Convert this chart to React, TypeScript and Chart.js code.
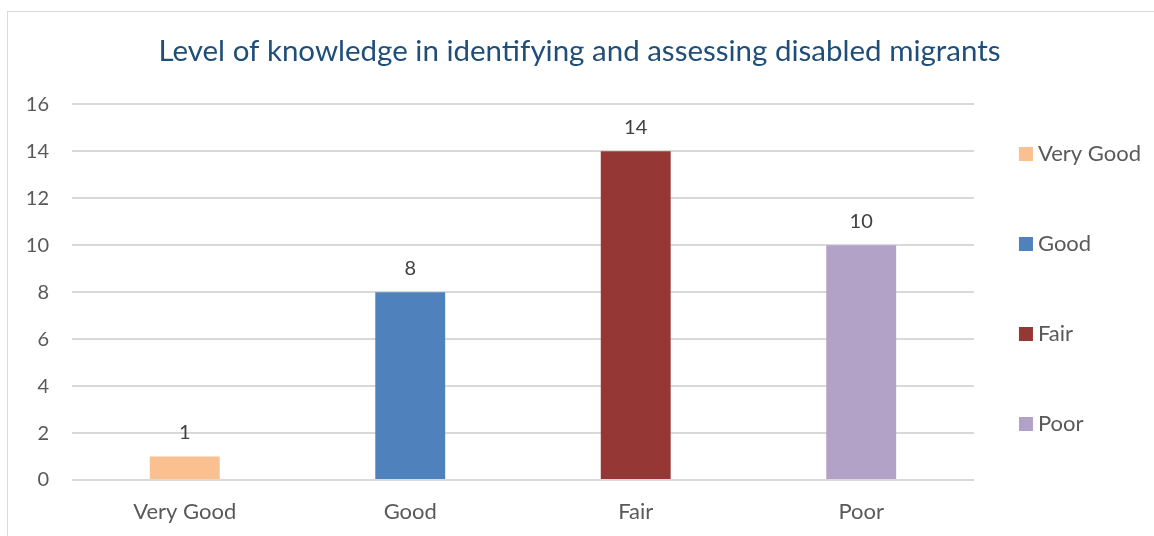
import React, { useEffect, useRef } from "react";
import { Chart, registerables } from "chart.js";

Chart.register(...registerables);

const titleText = "Level of knowledge in identifying and assessing disabled migrants";
const categories = ["Very Good", "Good", "Fair", "Poor"];
const values = [1, 8, 14, 10];
const barColors = ["#FAC090", "#4F81BD", "#953735", "#B2A2C7"];
const yMin = 0;
const yMax = 16;
const yStep = 2;

const FONT = "Lato, 'Liberation Sans', sans-serif";
const LEGEND_SQUARE = 14;
const TEXT_COLOR = "#595959";

const valueLabels = {
  id: "valueLabels",
  afterDatasetsDraw(chart: any) {
    const ctx = chart.ctx;
    const meta = chart.getDatasetMeta(0);
    ctx.save();
    ctx.font = `20px ${FONT}`;
    ctx.fillStyle = "#404040";
    ctx.textAlign = "center";
    ctx.textBaseline = "middle";
    meta.data.forEach((bar: any, i: number) => {
      ctx.fillText(String(values[i]), bar.x, bar.y - 24);
    });
    ctx.restore();
  },
};

// Draws the legend colour squares into the hit boxes laid out by Chart.js's legend
const legendSquares = {
  id: "legendSquares",
  afterDraw(chart: any) {
    const legend = chart.legend;
    if (!legend || !legend.legendHitBoxes) return;
    const ctx = chart.ctx;
    ctx.save();
    legend.legendHitBoxes.forEach((hb: any, i: number) => {
      ctx.fillStyle = barColors[i];
      ctx.fillRect(hb.left, hb.top + hb.height / 2 - LEGEND_SQUARE / 2, LEGEND_SQUARE, LEGEND_SQUARE);
    });
    ctx.restore();
  },
};

export default function App() {
  const ref = useRef<HTMLCanvasElement>(null);
  useEffect(() => {
    const chart = new Chart(ref.current!, {
      type: "bar",
      data: {
        labels: categories,
        datasets: [
          {
            label: "Series",
            data: values,
            backgroundColor: barColors,
            borderWidth: 0,
            barPercentage: 0.31,
            categoryPercentage: 1,
          },
        ],
      },
      options: {
        responsive: false,
        animation: false,
        maintainAspectRatio: false,
        layout: { padding: { left: 0, right: 3, top: 11, bottom: 0 } },
        plugins: {
          tooltip: { enabled: false },
          title: {
            display: true,
            text: titleText,
            color: "#1F4E79",
            font: { family: FONT, size: 29.5, weight: "normal" },
            padding: { top: 11, bottom: 35 },
          },
          legend: {
            display: true,
            position: "right",
            align: "center",
            labels: {
              boxWidth: 8,
              boxHeight: 45,
              padding: 45,
              color: TEXT_COLOR,
              font: { family: FONT, size: 22 },
              generateLabels: () =>
                categories.map((c, i) => ({
                  text: c,
                  fillStyle: "rgba(0,0,0,0)",
                  strokeStyle: "rgba(0,0,0,0)",
                  fontColor: TEXT_COLOR,
                  lineWidth: 0,
                  hidden: false,
                  index: i,
                  datasetIndex: 0,
                })),
            },
          },
        },
        scales: {
          x: {
            grid: { display: false, drawTicks: false },
            border: { display: false },
            ticks: { color: TEXT_COLOR, font: { family: FONT, size: 22 }, padding: 19 },
            afterFit: (s: any) => {
              s.height = 75;
            },
          },
          y: {
            min: yMin,
            max: yMax,
            ticks: {
              stepSize: yStep,
              color: TEXT_COLOR,
              font: { family: FONT, size: 20 },
              padding: 23,
            },
            grid: { color: "#D9D9D9", lineWidth: 2, drawTicks: false },
            border: { display: false },
            afterFit: (s: any) => {
              s.width = 64;
            },
          },
        },
      },
      plugins: [valueLabels, legendSquares],
    });
    return () => chart.destroy();
  }, []);
  return (
    <div
      style={{
        position: "fixed",
        left: 7,
        top: 11,
        width: 1148,
        height: 545,
        border: "1px solid #D9D9D9",
        boxSizing: "border-box",
        background: "#fff",
      }}
    >
      <canvas ref={ref} width={1146} height={543} style={{ display: "block" }} />
    </div>
  );
}
